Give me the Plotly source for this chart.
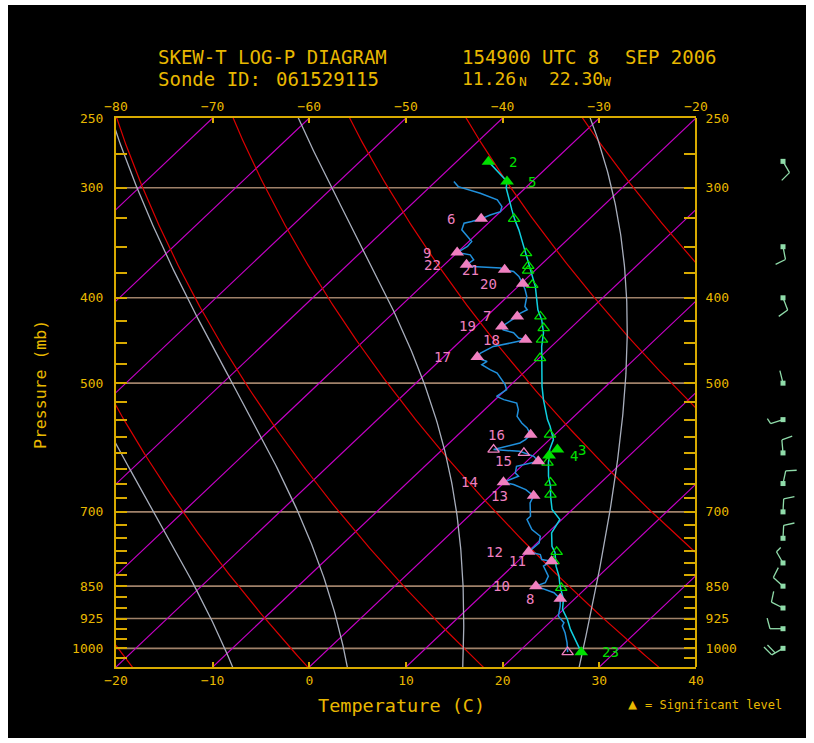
import numpy as np
import plotly.graph_objects as go

# ---------------- data (pressure in mb, temperature in deg C) ----------------
temp_p = [280.2, 295.2, 300.1, 309.7, 317.9, 326.3, 334.9, 343.8, 352.9, 365.1, 378.3, 388.4,
          402.1, 412.7, 423.7, 438.3, 454.2, 478.6, 504.2, 522.0, 535.9, 550.0, 559.7, 579.5,
          594.8, 615.4, 637.8, 654.7, 672.0, 695.7, 714.1, 739.4, 765.7, 778.4, 806.7, 828.1,
          850.0, 880.0, 903.3, 927.2, 951.7, 976.9, 997.5, 1010.0]
temp_T = [-36.7, -32.6, -32.0, -30.4, -29.0, -27.6, -26.1, -24.7, -23.3, -21.5, -19.6, -18.2,
          -16.6, -15.4, -13.9, -12.3, -11.0, -8.8, -6.6, -5.0, -3.7, -2.4, -1.4, 0.4,
          1.1, 2.4, 3.9, 5.2, 6.3, 7.9, 9.8, 10.4, 11.9, 12.9, 14.5, 15.9,
          17.1, 18.9, 19.9, 21.5, 22.9, 24.5, 25.7, 26.5]

dew_p = [295.2, 299.1, 304.3, 309.7, 315.1, 319.3, 322.1, 325.4, 327.7, 329.1, 334.9, 340.8,
         345.3, 349.8, 355.4, 357.5, 362.2, 366.9, 368.6, 370.1, 371.8, 373.4, 378.3, 385.6,
         391.7, 398.6, 409.2, 412.7, 418.2, 420.0, 427.3, 431.1, 434.9, 438.3, 444.4, 446.3,
         450.2, 454.2, 462.1, 467.0, 470.3, 472.4, 476.4, 482.7, 486.9, 493.3, 502.0, 508.6,
         517.6, 522.0, 526.6, 535.9, 545.3, 554.8, 562.1, 572.0, 579.5, 584.6, 594.8, 597.5,
         600.0, 605.4, 613.3, 615.9, 621.4, 632.2, 637.8, 643.3, 647.9, 651.8, 660.3, 671.3,
         683.7, 708.0, 714.1, 733.0, 746.0, 758.9, 775.8, 777.0, 782.5, 792.8, 796.3, 806.7,
         828.1, 842.5, 850.0, 857.3, 864.8, 878.4, 895.6, 919.3, 935.2, 943.6, 959.9, 985.3,
         1010.0]
dew_T = [-38.1, -37.1, -34.1, -31.6, -30.4, -30.0, -30.7, -31.2, -31.9, -32.5, -32.0, -30.7,
         -29.7, -29.6, -30.0, -28.4, -27.5, -27.7, -26.9, -23.8, -23.2, -22.1, -21.0, -19.8,
         -18.9, -18.0, -17.1, -16.5, -17.0, -16.8, -17.1, -17.3, -16.8, -15.4, -14.3, -13.4,
         -14.6, -16.0, -16.6, -16.5, -15.7, -15.0, -15.2, -13.8, -12.7, -11.8, -10.6, -9.9,
         -10.2, -9.1, -7.4, -6.5, -5.9, -4.7, -3.6, -2.5, -2.5, -2.7, -4.7, -1.8,
         -1.2, 0.2, 1.2, 0.6, -0.5, 0.1, 0.8, 0.3, -0.1, 1.2, 3.0, 4.5,
         4.9, 6.4, 6.4, 8.0, 9.6, 10.2, 10.2, 10.1, 11.6, 12.3, 13.5, 13.2,
         14.8, 15.2, 14.6, 15.8, 17.2, 18.5, 19.3, 20.2, 21.5, 21.7, 22.7, 24.0,
         25.1]

# significant levels (filled, numbered) and other marked levels (open)
tsig_p = [280.2, 295.2, 594.8, 604.2, 1010.0]
tsig_T = [-36.7, -32.6, 1.9, 1.7, 26.5]
tsig_lbl = ["2", "5", "3", "4", "23"]
topen_p = [325.4, 356.0, 367.9, 372.5, 386.7, 420.0, 432.9, 446.3, 468.2, 572.0, 615.4,
           648.4, 669.0, 777.0, 796.3, 853.6]
topen_T = [-27.8, -22.8, -21.2, -20.7, -18.7, -14.4, -12.8, -11.7, -9.9, -0.5, 2.3,
           4.8, 6.1, 13.0, 13.7, 17.4]

dsig_p = [325.4, 355.4, 366.9, 371.8, 385.6, 420.0, 431.1, 446.3, 467.0, 572.0, 613.3,
          647.9, 671.3, 777.0, 796.3, 850.0, 878.4]
dsig_T = [-31.2, -30.0, -27.7, -23.2, -19.8, -16.8, -17.3, -13.4, -16.5, -2.5, 1.2,
          -0.1, 4.5, 10.1, 13.5, 14.6, 18.5]
dsig_lbl = ["6", "9", "22", "21", "20", "7", "19", "18", "17", "16", "15",
            "14", "13", "12", "11", "10", "8"]
dopen_p = [594.8, 600.0, 1010.0]
dopen_T = [-4.7, -1.2, 25.1]

# winds: pressure (mb), direction (deg, from), speed (kt)
wind_p = [280, 350, 400, 500, 550, 600, 650, 700, 750, 800, 850, 900, 950, 1000]
wind_dir = [150, 169, 159, 346, 252, 355, 12, 3, 3, 330, 312, 297, 270, 240]
wind_spd = [10, 10, 10, 2, 5, 10, 10, 10, 10, 5, 10, 10, 10, 20]

# background line families
isotherm_T = list(range(-80, 50, 10))
dry_theta_K = [251.3, 269.2, 287.1, 305.0, 322.9, 340.8, 358.7, 376.6]
moist_thetaw_C = [-10.8, 1.5, 13.9, 26.3]
isobar_p = [300, 400, 500, 700, 850, 925, 1000]
p_labels = [250, 300, 400, 500, 700, 850, 925, 1000]
bottom_ticks = list(range(-20, 50, 10))
top_ticks = list(range(-80, -10, 10))

# ---------------- geometry ----------------
P_TOP, P_BOT = 250.0, 1050.0
X_MIN, X_MAX = -20.0, 40.0
SKEW = 60.0
LN_SPAN = np.log(P_BOT / P_TOP)
KAPPA = 0.2857

W, H = 814, 743
ML, MR, MT, MB = 116, 8, 118, 76
PW, PH = W - ML - MR, H - MT - MB
MAIN_FRAC = 580.0 / PW
PX_PER_LN = PH / LN_SPAN

GOLD = "#d8aa00"
GOLD_TXT = "#e8b800"
TAN = "#a0826a"
MAG = "#c400c4"
RED = "#dc0000"
GRAY = "#a8aebc"
CYAN = "#10d0e0"
BLUE = "#2090dc"
GREEN = "#00e000"
PINK = "#f080c0"
BARB = "#90dcaa"
FONT = "DejaVu Sans Mono"


def skewx(T, p):
    T = np.asarray(T, float)
    p = np.asarray(p, float)
    return T + SKEW * np.log(P_BOT / p) / LN_SPAN


def px_x(px):
    return (px - ML) / PW


def px_y(py):
    return (H - MB - py) / PH


pgrid = np.exp(np.linspace(np.log(240), np.log(1060), 200))

fig = go.Figure()

for p in isobar_p:
    fig.add_trace(go.Scatter(x=[X_MIN, X_MAX], y=[p, p], mode="lines",
                             line=dict(color=TAN, width=1.6), hoverinfo="skip"))
for T in isotherm_T:
    fig.add_trace(go.Scatter(x=skewx(np.full_like(pgrid, T), pgrid), y=pgrid, mode="lines",
                             line=dict(color=MAG, width=1.2), hoverinfo="skip"))
for th in dry_theta_K:
    Tk = th * (pgrid / 1000.0) ** KAPPA
    fig.add_trace(go.Scatter(x=skewx(Tk - 273.15, pgrid), y=pgrid, mode="lines",
                             line=dict(color=RED, width=1.2), hoverinfo="skip"))


def es(Tk):
    Tc = Tk - 273.15
    return 6.112 * np.exp(17.67 * Tc / (Tc + 243.5))


def thetae(Tk, p):
    e = es(Tk)
    r = 0.622 * e / (p - e)
    return Tk * (1000.0 / p) ** KAPPA * np.exp(2675.0 * r / Tk)


for tw in moist_thetaw_C:
    te0 = thetae(tw + 273.15, 1000.0)
    lo = np.full_like(pgrid, 150.0)
    hi = np.full_like(pgrid, 315.0)
    for _ in range(60):
        mid = 0.5 * (lo + hi)
        f = thetae(mid, pgrid)
        lo = np.where(f < te0, mid, lo)
        hi = np.where(f >= te0, mid, hi)
    Tk = 0.5 * (lo + hi)
    fig.add_trace(go.Scatter(x=skewx(Tk - 273.15, pgrid), y=pgrid, mode="lines",
                             line=dict(color=GRAY, width=1.3), hoverinfo="skip"))

fig.add_trace(go.Scatter(x=skewx(dew_T, dew_p), y=dew_p, mode="lines",
                         line=dict(color=BLUE, width=1.5), hoverinfo="skip"))
fig.add_trace(go.Scatter(x=skewx(temp_T, temp_p), y=temp_p, mode="lines",
                         line=dict(color=CYAN, width=1.5), hoverinfo="skip"))

fig.add_trace(go.Scatter(x=skewx(topen_T, topen_p), y=topen_p, mode="markers",
                         marker=dict(symbol="triangle-up-open", size=10, color=GREEN,
                                     line=dict(width=1.3, color=GREEN)), hoverinfo="skip"))
fig.add_trace(go.Scatter(x=skewx(dopen_T, dopen_p), y=dopen_p, mode="markers",
                         marker=dict(symbol="triangle-up-open", size=10, color=PINK,
                                     line=dict(width=1.3, color=PINK)), hoverinfo="skip"))
fig.add_trace(go.Scatter(x=skewx(tsig_T, tsig_p), y=tsig_p, mode="markers",
                         marker=dict(symbol="triangle-up", size=12, color=GREEN), hoverinfo="skip"))
fig.add_trace(go.Scatter(x=skewx(dsig_T, dsig_p), y=dsig_p, mode="markers",
                         marker=dict(symbol="triangle-up", size=12, color=PINK), hoverinfo="skip"))

fig.add_trace(go.Scatter(x=[-50], y=[500], xaxis="x2", yaxis="y2", mode="markers",
                         marker=dict(opacity=0), hoverinfo="skip"))

BARB_X0 = 43.0
xs, ys = [], []


def add_seg(p0, pts):
    for (a, b) in pts:
        xs.append(BARB_X0 + a)
        ys.append(p0 * np.exp(b / PX_PER_LN))
    xs.append(None)
    ys.append(None)


for p0, d, s in zip(wind_p, wind_dir, wind_spd):
    ang = np.radians(d)
    ux, uy = np.sin(ang), -np.cos(ang)
    L = 13.0
    add_seg(p0, [(0, 0), (ux * L, uy * L)])
    th = np.arctan2(uy, ux) + np.radians(75)
    bx, by = np.cos(th), np.sin(th)
    pos = L
    for _ in range(s // 10):
        sx, sy = ux * pos, uy * pos
        add_seg(p0, [(sx, sy), (sx + bx * 11, sy + by * 11)])
        pos -= 4.0
    if s % 10 >= 5:
        sx, sy = ux * pos, uy * pos
        add_seg(p0, [(sx, sy), (sx + bx * 6, sy + by * 6)])

fig.add_trace(go.Scatter(x=xs, y=ys, xaxis="x3", yaxis="y", mode="lines",
                         line=dict(color=BARB, width=1.3), hoverinfo="skip"))
fig.add_trace(go.Scatter(x=[BARB_X0] * len(wind_p), y=wind_p, xaxis="x3", yaxis="y",
                         mode="markers", marker=dict(symbol="square", size=5, color=BARB),
                         hoverinfo="skip"))

ann = []
for T, p, lbl in zip(tsig_T, tsig_p, tsig_lbl):
    ann.append(dict(x=float(skewx(T, p)), y=np.log10(p), xref="x", yref="y", text=lbl,
                    showarrow=False, xanchor="left", yanchor="middle", xshift=19,
                    font=dict(family=FONT, size=14, color=GREEN)))
for T, p, lbl in zip(dsig_T, dsig_p, dsig_lbl):
    ann.append(dict(x=float(skewx(T, p)), y=np.log10(p), xref="x", yref="y", text=lbl,
                    showarrow=False, xanchor="right", yanchor="middle", xshift=-24,
                    font=dict(family=FONT, size=14, color=PINK)))


def txt(px, py, s, size, anchor="left", angle=0):
    ann.append(dict(x=px_x(px), y=px_y(py), xref="paper", yref="paper", text=s,
                    showarrow=False, xanchor=anchor, yanchor="middle", textangle=angle,
                    font=dict(family=FONT, size=size, color=GOLD_TXT)))


txt(156, 57, "SKEW-T LOG-P DIAGRAM", 19)
txt(460, 57, "154900 UTC 8", 19)
txt(623, 57, "SEP 2006", 19)
txt(156, 79, "Sonde ID:", 19)
txt(274, 79, "061529115", 19)
txt(460, 79, "11.26", 18)
txt(517, 81, "N", 13)
txt(547, 79, "22.30", 18)
txt(601, 81, "W", 13)
txt(401, 705, "Temperature (C)", 18.5, anchor="center")
txt(40, 385, "Pressure (mb)", 16.5, anchor="center", angle=-90)
txt(632, 704, "▲", 15, anchor="center")
txt(643, 705, "= Significant level", 12)

p_ticks = list(range(250, 1050, 25))
p_text = [str(v) if v in p_labels else "" for v in p_ticks]
yr = [np.log10(P_BOT), np.log10(P_TOP)]

axis_common = dict(showgrid=False, zeroline=False, showline=True, linecolor=GOLD,
                   linewidth=2, tickcolor=GOLD, ticks="inside",
                   tickfont=dict(family=FONT, size=13, color=GOLD_TXT))

fig.update_layout(
    width=W, height=H, autosize=False, margin=dict(l=ML, r=MR, t=MT, b=MB, autoexpand=False),
    paper_bgcolor="white", plot_bgcolor="black", showlegend=False,
    xaxis=dict(domain=[0, MAIN_FRAC], range=[X_MIN, X_MAX], tickmode="array",
               tickvals=bottom_ticks, ticklen=5, tickwidth=1.5, anchor="y", **axis_common),
    xaxis2=dict(overlaying="x", side="top", range=[-80, -20], tickmode="array",
                tickvals=top_ticks, ticklen=5, tickwidth=1.5, anchor="y", **axis_common),
    xaxis3=dict(domain=[px_x(740), 1.0], range=[0, 66], visible=False, anchor="y"),
    yaxis=dict(type="log", range=yr, tickmode="array", tickvals=p_ticks, ticktext=p_text,
               ticklen=11, tickwidth=1.5, anchor="x", ticklabelstandoff=8, **axis_common),
    yaxis2=dict(type="log", range=yr, tickmode="array", tickvals=p_ticks, ticktext=p_text,
                ticklen=11, tickwidth=1.5, overlaying="y", side="right", anchor="free",
                position=MAIN_FRAC, ticklabelstandoff=6, **axis_common),
    annotations=ann,
    shapes=[dict(type="rect", xref="paper", yref="paper", layer="below",
                 x0=px_x(8), x1=px_x(806), y0=px_y(738), y1=px_y(5),
                 fillcolor="black", line=dict(width=0))],
)

fig.write_html("out.html", config={"responsive": False})
